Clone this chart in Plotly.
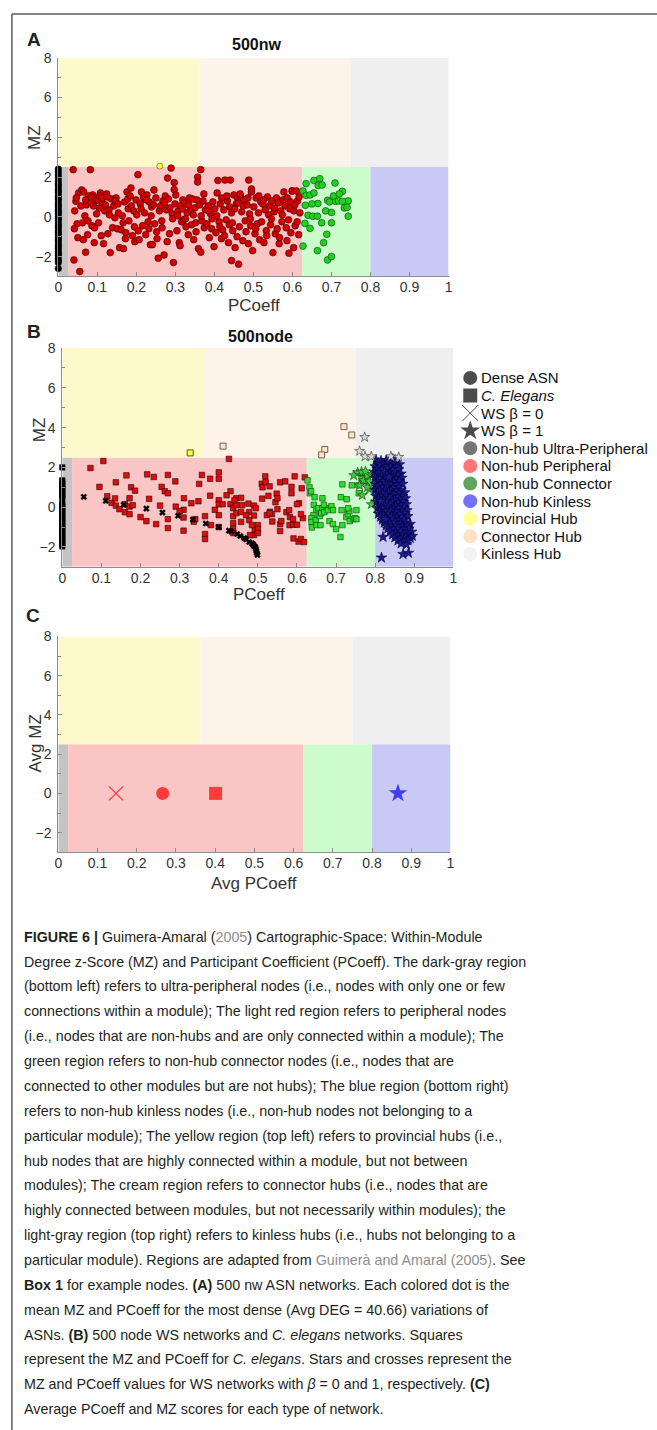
import plotly.graph_objects as go

W, H = 657, 1430
FONT = "Liberation Sans, Arial, Helvetica, sans-serif"
CAP_FONT = "Liberation Sans, Arial, Helvetica, sans-serif"

# ---------------- cartographic regions (PCoeff x0, x1, MZ y0, y1, colour)
region_names = ["Non-hub Ultra-Peripheral", "Non-hub Peripheral", "Non-hub Connector",
                "Non-hub Kinless", "Provincial Hub", "Connector Hub", "Kinless Hub"]
region_p0 = [0.0, 0.025, 0.625, 0.8, 0.0, 0.362, 0.75]
region_p1 = [0.025, 0.625, 0.8, 1.0, 0.362, 0.75, 1.0]
region_z0 = [-3, -3, -3, -3, 2.5, 2.5, 2.5]
region_z1 = [2.5, 2.5, 2.5, 2.5, 8, 8, 8]
region_fill = ["#c4c4c4", "#f9c5c5", "#ccfbcc", "#c9c9f6", "#fdf9cb", "#fdf3e8", "#efefef"]

x_ticks = [0, 0.1, 0.2, 0.3, 0.4, 0.5, 0.6, 0.7, 0.8, 0.9, 1]
x_ticktext = ["0", "0.1", "0.2", "0.3", "0.4", "0.5", "0.6", "0.7", "0.8", "0.9", "1"]
y_ticks = [-2, 0, 2, 4, 6, 8]
y_minor = [-3, -1, 1, 3, 5, 7]

# ---------------- Panel A: 500nw (Dense ASN)
a_black_p = [0, 0, 0, 0, 0, 0, 0, 0, 0, 0, 0, 0, 0, 0, 0, 0, 0, 0, 0, 0, 0,
             0, 0, 0, 0, 0, 0, 0, 0, 0, 0, 0, 0, 0, 0, 0, 0, 0, 0, 0, 0]
a_black_mz = [2.40, 2.25, 2.10, 1.95, 1.80, 1.65, 1.55, 1.40, 1.30, 1.20, 1.05, 0.95, 0.85, 0.70,
              0.60, 0.50, 0.35, 0.25, 0.15, 0.00, -0.10, -0.20, -0.35, -0.45, -0.55, -0.70, -0.80,
              -0.90, -1.05, -1.15, -1.25, -1.40, -1.50, -1.60, -1.75, -1.85, -1.95, -2.10, -2.20,
              -2.30, -2.60]
a_red_p = [0.038, 0.040, 0.042, 0.045, 0.048, 0.050, 0.052, 0.055, 0.058, 0.060, 0.041, 0.046,
           0.062, 0.065, 0.068, 0.070, 0.072, 0.075, 0.078, 0.064, 0.070, 0.076,
           0.082, 0.084, 0.086, 0.088, 0.090, 0.092, 0.095, 0.098, 0.085, 0.093, 0.097,
           0.100, 0.103, 0.105, 0.108, 0.110, 0.113, 0.116, 0.119, 0.106, 0.112,
           0.121, 0.124, 0.127, 0.130, 0.133, 0.136, 0.139, 0.125, 0.131,
           0.142, 0.145, 0.148, 0.151, 0.154, 0.157, 0.146, 0.153,
           0.161, 0.164, 0.167, 0.170, 0.173, 0.176, 0.179, 0.166, 0.172, 0.178,
           0.181, 0.184, 0.187, 0.190, 0.193, 0.196, 0.199, 0.186, 0.195,
           0.201, 0.204, 0.207, 0.210, 0.213, 0.216, 0.219, 0.205, 0.212, 0.218,
           0.221, 0.224, 0.227, 0.230, 0.233, 0.236, 0.239, 0.226, 0.232, 0.238,
           0.241, 0.244, 0.247, 0.250, 0.253, 0.256, 0.259, 0.245, 0.252,
           0.262, 0.265, 0.268, 0.271, 0.274, 0.277, 0.280, 0.266, 0.272, 0.279,
           0.282, 0.285, 0.289, 0.292, 0.295, 0.297, 0.297, 0.286, 0.293, 0.299,
           0.301, 0.304, 0.307, 0.310, 0.313, 0.316, 0.319, 0.306, 0.312, 0.318,
           0.321, 0.324, 0.327, 0.330, 0.333, 0.336, 0.339, 0.326, 0.334,
           0.341, 0.344, 0.347, 0.350, 0.353, 0.357, 0.357, 0.359, 0.346, 0.352, 0.355,
           0.362, 0.365, 0.365, 0.368, 0.371, 0.374, 0.377, 0.366, 0.373,
           0.381, 0.384, 0.387, 0.390, 0.393, 0.396, 0.399, 0.386, 0.394,
           0.401, 0.404, 0.407, 0.409, 0.412, 0.415, 0.418, 0.406, 0.414, 0.419,
           0.421, 0.424, 0.427, 0.430, 0.433, 0.436, 0.439, 0.426, 0.432, 0.438,
           0.441, 0.444, 0.444, 0.447, 0.450, 0.453, 0.456, 0.459, 0.446, 0.452, 0.458,
           0.461, 0.462, 0.464, 0.467, 0.470, 0.473, 0.476, 0.479, 0.466, 0.474,
           0.481, 0.484, 0.487, 0.488, 0.490, 0.493, 0.495, 0.495, 0.498, 0.486, 0.492,
           0.501, 0.504, 0.507, 0.510, 0.513, 0.516, 0.519, 0.506, 0.514,
           0.521, 0.524, 0.527, 0.530, 0.533, 0.536, 0.539, 0.526, 0.534,
           0.541, 0.544, 0.547, 0.550, 0.553, 0.556, 0.559, 0.546, 0.554,
           0.561, 0.564, 0.567, 0.570, 0.573, 0.576, 0.578, 0.566, 0.574,
           0.581, 0.584, 0.587, 0.590, 0.591, 0.593, 0.596, 0.599, 0.586, 0.595,
           0.600, 0.603, 0.604, 0.607, 0.610, 0.613, 0.616, 0.619, 0.606, 0.612, 0.617]
a_red_mz = [2.37, -2.17, 0.30, 0.78, -0.35, -1.05, 1.20, -2.75, 0.55, 1.35, -0.60, 0.95,
            -0.30, 1.25, 0.05, -1.78, 0.60, -0.90, 1.05, -1.15, 0.85, -0.20,
            2.37, 0.70, -0.45, 1.10, 0.55, -1.30, 0.80, 0.15, 1.00, -0.55, 0.95,
            0.85, -0.30, 0.45, 1.20, -0.95, 0.70, -1.35, 0.30, 1.05, 0.95,
            0.60, 1.15, -0.85, 0.35, -1.80, 0.90, -0.55, 1.00, 0.10,
            0.55, -0.05, 0.95, -0.60, 0.20, -1.55, 0.80, 0.65,
            -0.65, 0.05, -1.60, 0.75, -0.80, 1.25, 0.40, -0.30, -1.10, 0.90,
            -0.20, 1.05, 0.55, -0.95, 0.30, -1.25, 0.85, 1.45, -0.50,
            0.10, 2.12, -1.15, 0.65, 1.25, -0.45, 0.95, -0.70, 0.40, 1.00,
            0.20, -0.90, 1.10, -0.25, 0.75, -1.40, 0.50, 0.85, -0.60, 0.05,
            -1.40, 0.60, -0.35, 0.95, -1.10, -2.08, 0.30, 1.35, -0.75,
            0.55, -0.20, 0.80, -1.92, 1.05, 0.35, 1.95, -0.55, 0.70, -1.25,
            0.90, -0.85, 2.45, 0.15, -2.30, 1.72, 1.37, 0.45, -0.10, 0.65,
            1.10, -0.70, 0.30, -1.30, 0.55, -0.25, 0.85, 0.05, -1.45, 0.40,
            -0.15, 0.70, -0.50, 0.20, -0.90, 0.95, 0.35, -0.10, 0.60,
            -0.40, 0.90, -1.15, 0.45, -0.75, 2.00, 1.75, -1.60, 0.10, -0.30, 0.85,
            0.60, 2.37, -1.78, -0.20, 0.80, -0.55, 0.35, 0.05, 1.15,
            -0.35, 0.55, -1.05, 0.15, -0.60, 0.75, -1.50, 0.30, -0.10,
            0.40, -0.80, 1.20, 1.83, -0.25, 0.65, -1.10, 0.05, -0.50, 0.95,
            -0.65, 0.35, 1.85, -0.15, 0.80, -1.30, 0.50, -0.95, 1.05, -0.40,
            1.85, -2.20, 0.20, -0.70, 1.10, -1.55, 0.65, 0.95, -0.30, 0.40, -1.00,
            0.70, -2.38, -0.50, 1.00, 0.25, -1.20, 0.85, -0.20, 1.15, 0.55,
            -0.75, 0.60, -1.35, 1.85, 0.15, -0.45, 1.40, 1.25, -1.70, 0.95, -0.10,
            0.50, -0.85, 0.95, -0.35, 0.20, -1.15, 0.75, -0.60, 1.05,
            -0.25, 0.65, -1.30, 0.35, -0.70, 1.00, 0.10, 0.85, -0.95,
            0.55, -0.40, 0.80, -1.80, 0.25, -0.85, 0.95, -0.10, 0.45,
            -0.60, 0.70, -1.05, 0.30, -0.25, 0.85, 1.25, -1.35, 0.10,
            0.55, -0.55, 0.95, -0.15, -1.83, 0.40, -0.80, 1.30, -1.20, 0.75,
            1.30, -1.55, 0.30, -0.45, 1.30, 0.80, -0.90, 0.20, 0.60, -0.25, 1.00]
a_green_p = [0.627, 0.635, 0.645, 0.635, 0.655, 0.670, 0.666, 0.676, 0.633, 0.665,
             0.690, 0.640, 0.652, 0.664, 0.632, 0.645, 0.675, 0.688, 0.627, 0.664,
             0.690, 0.709, 0.728, 0.743, 0.710, 0.718, 0.728, 0.733, 0.740, 0.743,
             0.700, 0.700, 0.700, 0.685, 0.695, 0.655, 0.705, 0.680, 0.650, 0.720]
a_green_mz = [1.30, 1.08, 1.10, 1.67, 1.83, 1.92, 1.58, 1.60, 0.58, 0.67,
              0.83, 0.08, 0.03, 0.03, -0.33, -0.58, -0.30, -0.88, -1.47, -1.70,
              -2.17, 1.70, 1.28, 0.80, 0.78, 0.80, 0.78, 0.45, 0.47, 0.03,
              0.22, -0.30, -2.00, 0.30, 0.75, 1.20, 1.05, -1.30, 0.65, 1.15]
a_yellow_p = [0.260]
a_yellow_mz = [2.55]

# ---------------- Panel B: 500node (C. elegans squares, WS crosses / stars)
b_black_p = [0, 0, 0, 0, 0, 0, 0, 0, 0, 0, 0, 0, 0, 0, 0, 0, 0,
             0, 0, 0, 0, 0, 0, 0, 0, 0, 0, 0, 0, 0, 0, 0, 0, 0]
b_black_mz = [2.00, 1.35, 1.25, 1.15, 1.05, 0.95, 0.85, 0.75, 0.65, 0.55, 0.45, 0.20, 0.10, 0.00,
              -0.10, -0.20, -0.30, -0.40, -0.50, -0.60, -0.70, -0.80, -0.90, -1.00, -1.10, -1.20,
              -1.30, -1.40, -1.50, -1.60, -1.70, -1.80, -1.90, -1.97]
b_red_p = [0.072, 0.105, 0.095, 0.115, 0.137, 0.126, 0.135, 0.137, 0.146, 0.160,
           0.164, 0.160, 0.172, 0.172, 0.172, 0.176, 0.186, 0.217, 0.234, 0.222,
           0.215, 0.240, 0.250, 0.254, 0.262, 0.270, 0.270, 0.270, 0.270, 0.289,
           0.290, 0.311, 0.310, 0.310, 0.310, 0.330, 0.336, 0.348, 0.350, 0.357,
           0.365, 0.365, 0.365, 0.378, 0.378, 0.390, 0.400, 0.400, 0.400, 0.400,
           0.400, 0.400, 0.410, 0.426, 0.430, 0.430, 0.437, 0.437, 0.437, 0.437,
           0.437, 0.445, 0.445, 0.445, 0.440, 0.457, 0.457, 0.457, 0.476, 0.478,
           0.478, 0.490, 0.490, 0.492, 0.490, 0.495, 0.511, 0.510, 0.512, 0.519,
           0.527, 0.523, 0.531, 0.536, 0.537, 0.545, 0.548, 0.557, 0.557, 0.557,
           0.573, 0.581, 0.582, 0.586, 0.586, 0.590, 0.594, 0.600, 0.591, 0.604,
           0.605, 0.612, 0.615, 0.620, 0.500, 0.500, 0.500, 0.485, 0.480, 0.520,
           0.530, 0.550, 0.570, 0.580, 0.600, 0.610, 0.560, 0.590, 0.530, 0.550,
           0.610, 0.618, 0.340, 0.300, 0.200, 0.180, 0.420, 0.460, 0.380, 0.470]
b_red_mz = [1.97, 2.32, 1.02, 0.55, 1.25, 0.22, 0.44, 0.08, -0.10, 0.15,
            1.60, -0.25, 0.45, 0.03, -0.35, 1.00, 0.83, 1.65, 1.52, 0.42,
            -0.70, -0.85, 0.08, 1.02, 0.80, 0.70, 1.62, -0.60, -1.05, 1.30,
            0.03, 0.45, -0.13, -0.52, -1.18, 0.20, -0.73, 0.30, 1.17, 1.62,
            -0.45, -1.35, -1.60, 1.43, 0.58, -0.13, 1.75, 1.43, 0.35, 0.15,
            -0.40, -1.00, 0.15, 2.43, 0.80, 0.15, -0.05, -0.45, -0.80, -1.10,
            -1.30, 0.45, 0.10, -0.30, 0.35, 0.47, -0.24, -0.74, 0.18, -0.25,
            -0.65, 0.08, -0.42, -1.15, -1.40, -0.05, 0.43, 1.18, 1.00, 1.55,
            0.57, -0.40, -0.23, -0.35, -0.72, 0.25, 0.68, 1.25, -0.85, -1.20,
            -0.25, -0.90, -0.50, 1.02, 0.70, -0.88, 1.55, -0.88, -1.57, -1.73,
            0.20, 0.95, -0.55, 1.50, -0.90, -1.10, -1.30, -0.90, -1.40, 1.25,
            1.05, 0.45, 1.30, -0.15, 0.15, -0.35, -0.70, -0.60, -0.30, -0.10,
            -1.60, -1.75, -0.60, -0.20, -0.50, 0.10, 0.60, 0.10, -0.90, -0.40]
b_green_p = [0.627, 0.632, 0.633, 0.636, 0.645, 0.643, 0.649, 0.655, 0.665, 0.676,
             0.642, 0.637, 0.637, 0.638, 0.648, 0.658, 0.662, 0.670, 0.650, 0.660,
             0.665, 0.669, 0.679, 0.688, 0.692, 0.683, 0.692, 0.700, 0.711, 0.716,
             0.712, 0.714, 0.716, 0.726, 0.730, 0.734, 0.727, 0.731, 0.735, 0.745,
             0.748, 0.752, 0.752, 0.740, 0.757, 0.758, 0.760, 0.765, 0.770, 0.780]
b_green_mz = [1.35, 1.00, 0.70, 0.80, 0.50, 0.12, -0.12, -0.05, -0.05, -0.05,
              -0.40, -0.55, -0.75, -1.02, -0.65, -0.45, -0.30, -0.25, -0.90, -0.90,
              0.45, 0.12, -0.15, 0.05, -0.15, -0.70, -0.85, -1.10, -1.50, 1.15,
              0.50, -0.15, -0.90, -0.50, -0.35, -0.20, 0.40, -0.05, -0.70, -0.60,
              -0.55, -0.15, -0.60, 1.10, 1.10, 0.70, 1.72, 1.45, 1.30, 1.60]
b_hub_yellow_p = [0.327]
b_hub_yellow_mz = [2.73]
b_hub_cream_p = [0.411, 0.671, 0.663, 0.720, 0.740]
b_hub_cream_mz = [3.07, 2.90, 2.63, 4.05, 3.63]
ws0_p = [0.055, 0.111, 0.157, 0.215, 0.256, 0.296, 0.334, 0.367, 0.400, 0.426, 0.447, 0.465,
         0.478, 0.488, 0.493, 0.496, 0.497, 0.499, 0.495, 0.490, 0.485, 0.470, 0.455, 0.432]
ws0_mz = [0.52, 0.32, 0.12, -0.07, -0.27, -0.43, -0.62, -0.82, -1.00, -1.18, -1.35, -1.55,
          -1.75, -1.88, -2.00, -2.20, -2.30, -2.40, -2.10, -1.95, -1.82, -1.62, -1.45, -1.22]
ws1_green_p = [0.755, 0.765, 0.775, 0.745, 0.770, 0.785, 0.767, 0.790, 0.785, 0.760, 0.795, 0.780]
ws1_green_mz = [1.75, 1.78, 1.80, 1.60, 1.35, 1.30, 0.60, 0.14, 0.90, 1.10, 1.65, 1.00]
ws1_gray_p = [0.773, 0.760, 0.774, 0.790, 0.840, 0.860]
ws1_gray_mz = [3.52, 2.82, 2.55, 2.55, 2.55, 2.52]
ws1_blue_p = [0.802, 0.815, 0.828, 0.842, 0.808, 0.822, 0.835, 0.850, 0.862, 0.800,
              0.812, 0.826, 0.840, 0.855, 0.805, 0.818, 0.832, 0.846, 0.860, 0.798,
              0.810, 0.824, 0.838, 0.852, 0.866, 0.803, 0.816, 0.830, 0.844, 0.858,
              0.800, 0.812, 0.826, 0.840, 0.854, 0.868, 0.806, 0.820, 0.834, 0.848,
              0.862, 0.801, 0.814, 0.828, 0.842, 0.856, 0.870, 0.805, 0.818, 0.832,
              0.846, 0.860, 0.800, 0.812, 0.826, 0.840, 0.854, 0.866, 0.806, 0.820,
              0.834, 0.848, 0.862, 0.875, 0.802, 0.815, 0.829, 0.843, 0.857, 0.870,
              0.808, 0.822, 0.836, 0.850, 0.864, 0.877, 0.804, 0.817, 0.831, 0.845,
              0.859, 0.872, 0.810, 0.824, 0.838, 0.852, 0.866, 0.879, 0.806, 0.819,
              0.833, 0.847, 0.861, 0.874, 0.812, 0.826, 0.840, 0.854, 0.868, 0.881,
              0.808, 0.821, 0.835, 0.849, 0.863, 0.876, 0.814, 0.828, 0.842, 0.856,
              0.870, 0.883, 0.818, 0.832, 0.846, 0.860, 0.874, 0.823, 0.837, 0.851,
              0.865, 0.879, 0.889, 0.828, 0.842, 0.856, 0.870, 0.884, 0.832, 0.846,
              0.860, 0.874, 0.886, 0.838, 0.852, 0.866, 0.880, 0.893, 0.844, 0.858,
              0.872, 0.884, 0.850, 0.864, 0.878, 0.890, 0.858, 0.872, 0.884, 0.866,
              0.880, 0.816, 0.871, 0.820, 0.885, 0.895, 0.845, 0.835, 0.825, 0.815]
ws1_blue_mz = [2.38, 2.33, 2.36, 2.30, 2.22, 2.18, 2.24, 2.20, 2.15, 2.05,
               2.08, 2.02, 2.07, 2.00, 1.92, 1.88, 1.94, 1.86, 1.90, 1.76,
               1.72, 1.78, 1.70, 1.74, 1.68, 1.62, 1.57, 1.63, 1.58, 1.60,
               1.46, 1.42, 1.48, 1.44, 1.40, 1.47, 1.32, 1.28, 1.33, 1.27,
               1.30, 1.16, 1.12, 1.18, 1.14, 1.10, 1.17, 1.02, 0.97, 1.03,
               0.98, 1.00, 0.86, 0.82, 0.88, 0.84, 0.80, 0.87, 0.72, 0.68,
               0.73, 0.67, 0.70, 0.74, 0.56, 0.52, 0.58, 0.54, 0.50, 0.57,
               0.42, 0.38, 0.43, 0.37, 0.40, 0.44, 0.26, 0.22, 0.28, 0.24,
               0.20, 0.27, 0.12, 0.08, 0.13, 0.07, 0.10, 0.14, -0.04, -0.08,
               -0.03, -0.09, -0.05, -0.02, -0.18, -0.22, -0.17, -0.23, -0.20, -0.16,
               -0.33, -0.38, -0.32, -0.37, -0.35, -0.31, -0.48, -0.53, -0.47, -0.52,
               -0.50, -0.46, -0.63, -0.68, -0.62, -0.67, -0.64, -0.78, -0.83, -0.77,
               -0.82, -0.79, -0.85, -0.93, -0.98, -0.92, -0.97, -0.94, -1.08, -1.13,
               -1.07, -1.12, -1.09, -1.23, -1.28, -1.22, -1.27, -1.24, -1.38, -1.43,
               -1.37, -1.42, -1.53, -1.58, -1.52, -1.56, -1.68, -1.73, -1.67, -1.83,
               -1.88, -2.54, -2.36, -1.50, -2.30, -1.45, 2.42, 1.50, -0.60, 0.30]

# ---------------- Panel C: averages per network type
c_labels = ["Dense ASN", "C. Elegans", "WS β = 0", "WS β = 1"]
c_avg_p = [0.266, 0.401, 0.147, 0.866]
c_avg_mz = [0.0, 0.0, 0.0, 0.0]
c_symbols = ["circle", "square", "x-thin-open", "star"]
c_colors = ["#ff0000", "#ff0000", "#ff0000", "#0000ff"]

# ---------------- Legend of panel B
legend_labels = ["Dense ASN", "<i>C. Elegans</i>", "WS β = 0", "WS β = 1",
                 "Non-hub Ultra-Peripheral", "Non-hub Peripheral", "Non-hub Connector",
                 "Non-hub Kinless", "Provincial Hub", "Connector Hub", "Kinless Hub"]
legend_symbols = ["circle", "square", "x-thin-open", "star", "circle", "circle", "circle",
                  "circle", "circle", "circle", "circle"]
legend_colors = ["#000000", "#000000", "#000000", "#000000", "#3c3c3c", "#ff3a3a", "#1f7a1f",
                 "#3434ff", "#ffff6a", "#f9d5ac", "#ececec"]

caption_lines = [
    "<b>FIGURE 6 |</b> Guimera-Amaral (<span style='color:#8d8d8d'>2005</span>) Cartographic-Space: Within-Module",
    "Degree z-Score (MZ) and Participant Coefficient (PCoeff). The dark-gray region",
    "(bottom left) refers to ultra-peripheral nodes (i.e., nodes with only one or few",
    "connections within a module); The light red region refers to peripheral nodes",
    "(i.e., nodes that are non-hubs and are only connected within a module); The",
    "green region refers to non-hub connector nodes (i.e., nodes that are",
    "connected to other modules but are not hubs); The blue region (bottom right)",
    "refers to non-hub kinless nodes (i.e., non-hub nodes not belonging to a",
    "particular module); The yellow region (top left) refers to provincial hubs (i.e.,",
    "hub nodes that are highly connected within a module, but not between",
    "modules); The cream region refers to connector hubs (i.e., nodes that are",
    "highly connected between modules, but not necessarily within modules); the",
    "light-gray region (top right) refers to kinless hubs (i.e., hubs not belonging to a",
    "particular module). Regions are adapted from <span style='color:#8d8d8d'>Guimerà and Amaral (2005)</span>. See",
    "<b>Box 1</b> for example nodes. <b>(A)</b> 500 nw ASN networks. Each colored dot is the",
    "mean MZ and PCoeff for the most dense (Avg DEG = 40.66) variations of",
    "ASNs. <b>(B)</b> 500 node WS networks and <i>C. elegans</i> networks. Squares",
    "represent the MZ and PCoeff for <i>C. elegans</i>. Stars and crosses represent the",
    "MZ and PCoeff values for WS networks with <i>β</i> = 0 and 1, respectively. <b>(C)</b>",
    "Average PCoeff and MZ scores for each type of network.",
]


# ---------------- helpers (pixel -> paper)
def px(x):
    return x / W


def py(y):
    return 1 - y / H


def xaxis(x0, x1, y_anchor):
    return dict(domain=[px(x0), px(x1)], range=[0, 1], anchor=y_anchor,
                tickvals=x_ticks, ticktext=x_ticktext, ticks="inside", ticklen=4,
                tickcolor="#8c8c8c", showline=True, linecolor="#8c8c8c", linewidth=1,
                showgrid=False, zeroline=False, ticklabelstandoff=-2,
                tickfont=dict(family=FONT, size=14, color="#333333"))


def yaxis(y_top, y_bot, x_anchor):
    return dict(domain=[py(y_bot), py(y_top)], range=[-3, 8], anchor=x_anchor,
                tickvals=y_ticks, ticks="inside", ticklen=4, tickcolor="#8c8c8c",
                minor=dict(tickvals=y_minor, ticks="inside", ticklen=2.5, tickcolor="#8c8c8c"),
                showline=True, linecolor="#8c8c8c", linewidth=1, showgrid=False,
                zeroline=False, ticklabelstandoff=3,
                tickfont=dict(family=FONT, size=14, color="#333333"))


fig = go.Figure()

# ---------- Panel A traces
fig.add_trace(go.Scatter(x=a_black_p, y=a_black_mz, mode="markers", xaxis="x", yaxis="y",
                         marker=dict(symbol="circle", size=6.5, color="#000000",
                                     line=dict(color="#000000", width=0.5)),
                         cliponaxis=False, showlegend=False))
fig.add_trace(go.Scatter(x=a_red_p, y=a_red_mz, mode="markers", xaxis="x", yaxis="y",
                         marker=dict(symbol="circle", size=6.8, color="#d40000",
                                     line=dict(color="#3a0000", width=0.6)),
                         cliponaxis=False, showlegend=False))
fig.add_trace(go.Scatter(x=a_green_p, y=a_green_mz, mode="markers", xaxis="x", yaxis="y",
                         marker=dict(symbol="circle", size=6.8, color="#1fd21f",
                                     line=dict(color="#0b3d0b", width=0.6)),
                         cliponaxis=False, showlegend=False))
fig.add_trace(go.Scatter(x=a_yellow_p, y=a_yellow_mz, mode="markers", xaxis="x", yaxis="y",
                         marker=dict(symbol="circle", size=6, color="#ffff33",
                                     line=dict(color="#555500", width=0.6)),
                         cliponaxis=False, showlegend=False))

# ---------- Panel B traces
fig.add_trace(go.Scatter(x=b_black_p, y=b_black_mz, mode="markers", xaxis="x2", yaxis="y2",
                         marker=dict(symbol="square", size=5.5, color="#000000",
                                     line=dict(color="#000000", width=0.5)),
                         cliponaxis=False, showlegend=False))
fig.add_trace(go.Scatter(x=b_red_p, y=b_red_mz, mode="markers", xaxis="x2", yaxis="y2",
                         marker=dict(symbol="square", size=5.5, color="#dc0e0e",
                                     line=dict(color="#2a0000", width=0.6)),
                         cliponaxis=False, showlegend=False))
fig.add_trace(go.Scatter(x=b_green_p, y=b_green_mz, mode="markers", xaxis="x2", yaxis="y2",
                         marker=dict(symbol="square", size=5.5, color="#2fdc2f",
                                     line=dict(color="#0c3f0c", width=0.6)),
                         cliponaxis=False, showlegend=False))
fig.add_trace(go.Scatter(x=ws0_p, y=ws0_mz, mode="markers", xaxis="x2", yaxis="y2",
                         marker=dict(symbol="x", size=5.5, color="#000000",
                                     line=dict(color="#000000", width=0.3)),
                         cliponaxis=False, showlegend=False))
fig.add_trace(go.Scatter(x=ws1_green_p, y=ws1_green_mz, mode="markers", xaxis="x2", yaxis="y2",
                         marker=dict(symbol="star", size=7.5, color="#3ccc3c",
                                     line=dict(color="#1a3a1a", width=0.6)),
                         cliponaxis=False, showlegend=False))
fig.add_trace(go.Scatter(x=ws1_blue_p, y=ws1_blue_mz, mode="markers", xaxis="x2", yaxis="y2",
                         marker=dict(symbol="star", size=8, color="#1a1a90",
                                     line=dict(color="#000030", width=0.6)),
                         cliponaxis=False, showlegend=False))
fig.add_trace(go.Scatter(x=ws1_gray_p, y=ws1_gray_mz, mode="markers", xaxis="x2", yaxis="y2",
                         marker=dict(symbol="star", size=7.5, color="#dcdcdc",
                                     line=dict(color="#555555", width=0.8)),
                         cliponaxis=False, showlegend=False))
fig.add_trace(go.Scatter(x=b_hub_yellow_p, y=b_hub_yellow_mz, mode="markers", xaxis="x2", yaxis="y2",
                         marker=dict(symbol="square", size=6, color="#ffff40",
                                     line=dict(color="#5a5a10", width=1)),
                         cliponaxis=False, showlegend=False))
fig.add_trace(go.Scatter(x=b_hub_cream_p, y=b_hub_cream_mz, mode="markers", xaxis="x2", yaxis="y2",
                         marker=dict(symbol="square", size=6, color="#f6e4cf",
                                     line=dict(color="#7a6048", width=1)),
                         cliponaxis=False, showlegend=False))

# ---------- Panel C traces
fig.add_trace(go.Scatter(x=c_avg_p, y=c_avg_mz, mode="markers", xaxis="x3", yaxis="y3",
                         text=c_labels,
                         marker=dict(symbol=c_symbols, size=[13, 13, 14, 14], color=c_colors,
                                     line=dict(color=c_colors, width=[0, 0, 1.3, 0])),
                         cliponaxis=False, showlegend=False))

# ---------- Legend (drawn beside panel B)
leg_idx = list(range(len(legend_labels)))
fig.add_trace(go.Scatter(x=[10] * len(leg_idx), y=leg_idx, mode="markers", xaxis="x4", yaxis="y4",
                         marker=dict(symbol=legend_symbols, size=[14, 14, 16, 15] + [14] * 7,
                                     color=legend_colors,
                                     line=dict(color=["#000000", "#000000", "#444444", "#000000"] + legend_colors[4:],
                                               width=[0, 0, 1, 0] + [0] * 7)),
                         cliponaxis=False, showlegend=False, hoverinfo="skip"))

# ---------- region shapes
shapes = []
for xr, yr in (("x", "y"), ("x2", "y2"), ("x3", "y3")):
    for i in range(len(region_names)):
        shapes.append(dict(type="rect", xref=xr, yref=yr, x0=region_p0[i], x1=region_p1[i],
                           y0=region_z0[i], y1=region_z1[i], fillcolor=region_fill[i],
                           line=dict(width=0), layer="below"))
# figure frame
shapes.append(dict(type="line", xref="paper", yref="paper", x0=px(8), x1=px(8), y0=py(6), y1=py(1440),
                   line=dict(color="#5a5a5a", width=1.5)))
shapes.append(dict(type="line", xref="paper", yref="paper", x0=px(8), x1=px(700), y0=py(6), y1=py(6),
                   line=dict(color="#5a5a5a", width=1.5)))

# ---------- annotations
ann = []


def text(x, y, s, size, bold=False, angle=0, xanchor="center", family=FONT, color="#222222"):
    ann.append(dict(x=px(x), y=py(y), xref="paper", yref="paper", text=(f"<b>{s}</b>" if bold else s),
                    showarrow=False, xanchor=xanchor, yanchor="middle", textangle=angle,
                    font=dict(family=family, size=size, color=color)))


text(30, 32, "A", 19, bold=True)
text(30, 325, "B", 19, bold=True)
text(29, 611, "C", 19, bold=True)
text(256, 37, "500nw", 16, bold=True, color="#111111")
text(260, 330, "500node", 16, bold=True, color="#111111")
text(253, 299, "PCoeff", 17, color="#333333")
text(258, 590, "PCoeff", 17, color="#333333")
text(253, 880, "Avg PCoeff", 17, color="#333333")
text(31, 130, "MZ", 17, angle=-90, color="#333333")
text(36, 424, "MZ", 17, angle=-90, color="#333333")
text(32, 740, "Avg MZ", 17, angle=-90, color="#333333")

for i, lab in enumerate(legend_labels):
    ann.append(dict(x=19, y=i, xref="x4", yref="y4", text=lab, showarrow=False,
                    xanchor="left", yanchor="middle",
                    font=dict(family=FONT, size=15, color="#111111")))

for i, line in enumerate(caption_lines):
    ann.append(dict(x=px(18), y=py(934 + 25 * i), xref="paper", yref="paper", text=line,
                    showarrow=False, xanchor="left", yanchor="middle", align="left",
                    font=dict(family=CAP_FONT, size=14.3, color="#231f20")))

leg_y0, leg_y1 = 372, 549
step = (leg_y1 - leg_y0) / (len(legend_labels) - 1)

fig.update_layout(
    width=W, height=H, margin=dict(l=0, r=0, t=0, b=0),
    paper_bgcolor="white", plot_bgcolor="white",
    xaxis=xaxis(55, 450, "y"), yaxis=yaxis(50, 270, "x"),
    xaxis2=xaxis(59, 455, "y2"), yaxis2=yaxis(342, 562, "x2"),
    xaxis3=xaxis(55, 452, "y3"), yaxis3=yaxis(632, 849, "x3"),
    xaxis4=dict(domain=[px(462), px(657)], range=[0, 195], visible=False, anchor="y4"),
    yaxis4=dict(domain=[py(leg_y1 + step / 2), py(leg_y0 - step / 2)],
                range=[len(legend_labels) - 0.5, -0.5], visible=False, anchor="x4"),
    shapes=shapes, annotations=ann, showlegend=False,
    font=dict(family=FONT),
)

fig.write_html("out.html")
